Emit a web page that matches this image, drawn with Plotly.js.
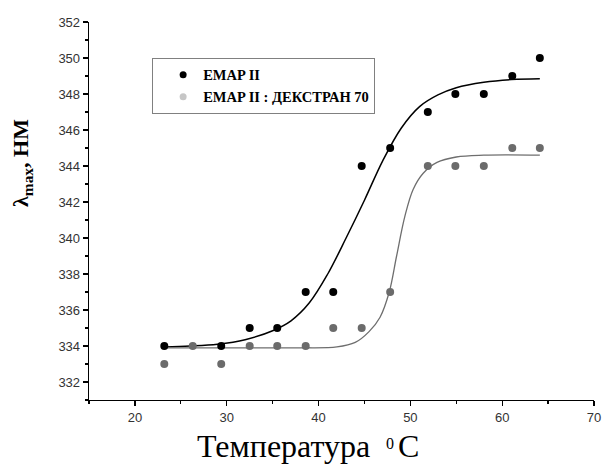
<!DOCTYPE html>
<html>
<head>
<meta charset="utf-8">
<script src="https://cdn.plot.ly/plotly-3.0.1.min.js"></script>
<style>html,body{margin:0;padding:0;background:#fff}#chart{width:614px;height:464px}</style>
</head>
<body>
<div id="chart"></div>
<script>
// Measured data (temperature, °C)
const tempEmap = [23.2, 29.4, 32.5, 35.5, 38.6, 41.6, 44.7, 47.8, 51.9, 54.9, 58.0, 61.1, 64.1];
const lambdaEmap = [334, 334, 335, 335, 337, 337, 344, 345, 347, 348, 348, 349, 350];

const tempDex = [23.2, 26.3, 29.4, 32.5, 35.5, 38.6, 41.6, 44.7, 47.8, 51.9, 54.9, 58.0, 61.1, 64.1];
const lambdaDex = [333, 334, 333, 334, 334, 334, 335, 335, 337, 344, 344, 344, 345, 345];

// Fitted curves
const fitEmapX = [23.2, 26, 29, 32, 35, 37, 39, 41, 43, 45, 47, 49, 51, 53, 55, 58, 61, 64.1];
const fitEmapY = [333.95, 334.0, 334.1, 334.35, 334.85, 335.4, 336.4, 338.0, 340.0, 342.1, 344.3, 346.1, 347.3, 347.95, 348.35, 348.65, 348.8, 348.85];

const fitDexX = [23.2, 30, 38, 42, 44, 45.5, 46.7, 47.7, 48.5, 49.4, 50.3, 51.4, 52.9, 55, 58, 64.1];
const fitDexY = [333.9, 333.9, 333.9, 333.95, 334.2, 334.8, 335.6, 337.0, 339.0, 341.2, 342.7, 343.6, 344.2, 344.5, 344.6, 344.6];

const legendNames = ['EMAP II', 'EMAP II : ДЕКСТРАН 70'];
const yTitle = '<b>λ<sub>max</sub>, НМ</b>';
const xTitleWord = 'Температура';
const xTitleDegree = '0';
const xTitleUnit = 'C';

const traces = [
  {x: fitEmapX, y: fitEmapY, mode: 'lines', line: {color: '#000', width: 1.5, shape: 'spline', smoothing: 1}, showlegend: false, hoverinfo: 'skip'},
  {x: fitDexX, y: fitDexY, mode: 'lines', line: {color: '#6e6e6e', width: 1.3, shape: 'spline', smoothing: 1}, showlegend: false, hoverinfo: 'skip'},
  {x: tempDex, y: lambdaDex, mode: 'markers', marker: {color: '#6b6b6b', size: 8}, showlegend: false},
  {x: tempEmap, y: lambdaEmap, mode: 'markers', marker: {color: '#000', size: 8}, showlegend: false},
  {x: [null], y: [null], mode: 'markers', name: legendNames[0], marker: {color: '#000', size: 7}},
  {x: [null], y: [null], mode: 'markers', name: legendNames[1], marker: {color: '#c6c6c6', size: 7}}
];

const serif = 'Liberation Serif, Times New Roman, serif';

const layout = {
  width: 614, height: 464,
  margin: {l: 89, r: 20, t: 22, b: 64},
  paper_bgcolor: '#fff', plot_bgcolor: '#fff',
  showlegend: true,
  legend: {
    x: 0.125, y: 0.905, xanchor: 'left', yanchor: 'top',
    bordercolor: '#808080', borderwidth: 1, bgcolor: '#fff',
    indentation: 10,
    font: {family: serif, size: 14.5, color: '#000', weight: 'bold'},
    tracegroupgap: 0, itemsizing: 'trace'
  },
  xaxis: {
    range: [15, 70], dtick: 10, tick0: 0,
    showgrid: false, zeroline: false,
    showline: true, linecolor: '#000', linewidth: 1.3,
    ticks: 'outside', ticklen: 5, tickcolor: '#000', tickwidth: 1.2,
    minor: {dtick: 5, ticks: 'outside', ticklen: 3, tickcolor: '#000', showgrid: false},
    tickfont: {family: 'Liberation Sans, Arial, sans-serif', size: 13, color: '#333'}
  },
  yaxis: {
    range: [331, 352], dtick: 2, tick0: 0,
    showgrid: false, zeroline: false,
    showline: true, linecolor: '#000', linewidth: 1.3,
    ticks: 'outside', ticklen: 5, tickcolor: '#000', tickwidth: 1.2,
    minor: {dtick: 1, ticks: 'outside', ticklen: 3, tickcolor: '#000', showgrid: false},
    tickfont: {family: 'Liberation Sans, Arial, sans-serif', size: 13, color: '#333'}
  },
  annotations: [
    {text: xTitleWord, xref: 'paper', yref: 'paper', x: 0.5604, y: -0.1217, xanchor: 'right', yanchor: 'middle', showarrow: false,
     font: {family: serif, size: 32, color: '#000'}},
    {text: xTitleDegree, xref: 'paper', yref: 'paper', x: 0.5960, y: -0.1138, xanchor: 'center', yanchor: 'middle', showarrow: false,
     font: {family: serif, size: 16, color: '#000'}},
    {text: xTitleUnit, xref: 'paper', yref: 'paper', x: 0.6079, y: -0.1217, xanchor: 'left', yanchor: 'middle', showarrow: false,
     font: {family: serif, size: 32, color: '#000'}},
    {text: yTitle, xref: 'paper', yref: 'paper', x: -0.1327, y: 0.627, xanchor: 'center', yanchor: 'middle', showarrow: false, textangle: -90,
     font: {family: serif, size: 22, color: '#000'}}
  ]
};

Plotly.newPlot('chart', traces, layout, {displayModeBar: false, staticPlot: true});
</script>
</body>
</html>
